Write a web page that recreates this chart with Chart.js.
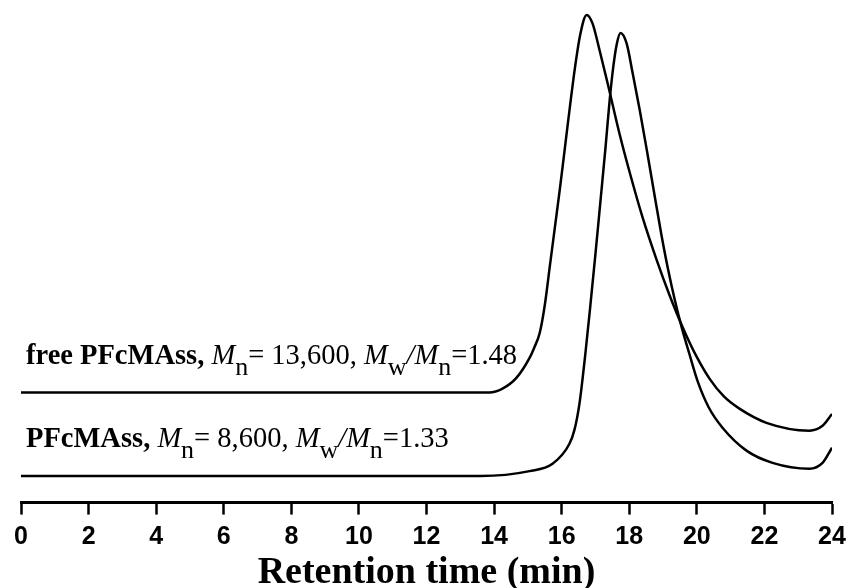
<!DOCTYPE html>
<html>
<head>
<meta charset="utf-8">
<script src="https://cdn.jsdelivr.net/npm/chart.js@4.4.1/dist/chart.umd.min.js"></script>
<style>
  html, body { margin: 0; padding: 0; background: #fff; }
  #wrap { width: 848px; height: 588px; }
</style>
</head>
<body>
<div id="wrap"><canvas id="gpc"></canvas></div>
<script>
// retention times (min) and detector signal (a.u.)
var freeTime = [0, 13.86, 14.25, 14.66, 15.05, 15.2, 15.35, 15.5, 15.65, 15.8, 15.95, 16.1, 16.25, 16.4, 16.55, 16.74, 16.91, 17.12, 17.36, 17.71, 18.01, 18.39, 18.81, 19.19, 19.58, 19.99, 20.38, 20.8, 21.26, 22.06, 23.33, 23.72, 24];
var freeSignal = [21.6, 21.6, 22.4, 24.6, 28.7, 31.0, 33.8, 39.5, 47.5, 55.5, 63.5, 72.0, 80.5, 88.5, 95.0, 99.0, 97.3, 91.8, 85.0, 74.7, 66.8, 57.6, 48.8, 41.6, 35.0, 29.0, 24.4, 20.8, 18.3, 15.4, 13.8, 14.8, 17.2];

var boundTime = [0, 13.6, 15.05, 15.73, 16.23, 16.38, 16.53, 16.7, 16.85, 17.0, 17.15, 17.3, 17.42, 17.53, 17.63, 17.74, 17.92, 18.1, 18.31, 18.54, 18.75, 18.95, 19.15, 19.35, 19.55, 19.78, 20.02, 20.35, 20.76, 21.47, 22.24, 23.33, 23.72, 24];
var boundSignal = [4.5, 4.5, 5.5, 7.0, 11.1, 14.0, 19.5, 29.5, 39.5, 50.0, 61.0, 72.0, 81.5, 88.5, 93.0, 95.3, 93.2, 87.1, 79.5, 70.5, 62.0, 54.0, 46.8, 40.5, 35.0, 29.5, 24.0, 18.6, 14.4, 9.7, 7.2, 6.0, 7.2, 10.3];

var sampleNames = ['free PFcMAss,', 'PFcMAss,'];
var mnValues = ['13,600', '8,600'];
var pdiValues = ['1.48', '1.33'];
var baselines = [21.6, 4.5];

var xTicks = [0, 2, 4, 6, 8, 10, 12, 14, 16, 18, 20, 22, 24];

function toPoints(xs, ys) {
  return xs.map(function (x, i) { return { x: x, y: ys[i] }; });
}

var serif = '"Liberation Serif", "Times New Roman", serif';

function drawRuns(ctx, x, y, runs) {
  runs.forEach(function (r) {
    ctx.font = r.font;
    ctx.fillText(r.text, x, y + (r.dy || 0));
    x += ctx.measureText(r.text).width;
  });
}

var labelPlugin = {
  id: 'sampleLabels',
  afterDatasetsDraw: function (chart) {
    var ctx = chart.ctx;
    var xs = chart.scales.x, ys = chart.scales.y;
    var reg = '28.5px ' + serif, ita = 'italic 28.5px ' + serif, bold = 'bold 28.5px ' + serif, sub = '26px ' + serif;
    ctx.save();
    ctx.fillStyle = '#000';
    ctx.textBaseline = 'alphabetic';
    ctx.textAlign = 'left';
    sampleNames.forEach(function (name, i) {
      var x0 = xs.getPixelForValue(0) + 5;
      var y0 = ys.getPixelForValue(baselines[i]) - 29;
      drawRuns(ctx, x0, y0, [
        { text: name + ' ', font: bold },
        { text: 'M', font: ita },
        { text: 'n', font: sub, dy: 11 },
        { text: '= ' + mnValues[i] + ', ', font: reg },
        { text: 'M', font: ita },
        { text: 'w', font: sub, dy: 11 },
        { text: '/', font: ita },
        { text: 'M', font: ita },
        { text: 'n', font: sub, dy: 11 },
        { text: '=' + pdiValues[i], font: reg }
      ]);
    });
    ctx.restore();
  }
};

var ctx = document.getElementById('gpc').getContext('2d');
new Chart(ctx, {
  type: 'line',
  data: {
    datasets: [{
      label: 'free PFcMAss',
      data: toPoints(freeTime, freeSignal),
      borderColor: '#000',
      borderWidth: 2.5,
      pointRadius: 0,
      cubicInterpolationMode: 'monotone',
      fill: false
    }, {
      label: 'PFcMAss',
      data: toPoints(boundTime, boundSignal),
      borderColor: '#000',
      borderWidth: 2.5,
      pointRadius: 0,
      cubicInterpolationMode: 'monotone',
      fill: false
    }]
  },
  options: {
    responsive: true,
    maintainAspectRatio: false,
    animation: false,
    layout: { padding: { left: 21, right: 16, top: 10, bottom: 0 } },
    plugins: {
      legend: { display: false },
      tooltip: { enabled: false }
    },
    scales: {
      x: {
        type: 'linear',
        min: 0,
        max: 24,
        afterBuildTicks: function (axis) {
          axis.ticks = xTicks.map(function (v) { return { value: v }; });
        },
        afterFit: function (axis) {
          // let layout.padding decide the side margins
          axis.paddingLeft = 0;
          axis.paddingRight = 0;
        },
        border: { display: true, color: '#000', width: 3 },
        grid: { display: true, drawOnChartArea: false, drawTicks: true, tickLength: 12, tickWidth: 2.5, tickColor: '#000' },
        ticks: {
          color: '#000',
          padding: 10,
          maxRotation: 0,
          autoSkip: false,
          font: { family: '"Liberation Sans", Arial, sans-serif', size: 25, weight: 'bold', lineHeight: 1.0 }
        },
        title: {
          display: true,
          text: 'Retention time (min)',
          color: '#000',
          padding: { top: -2, bottom: 0 },
          font: { family: serif, size: 38, weight: 'bold', lineHeight: 0.8 }
        }
      },
      y: {
        display: false,
        min: -0.95,
        max: 100
      }
    }
  },
  plugins: [labelPlugin]
});
</script>
</body>
</html>
